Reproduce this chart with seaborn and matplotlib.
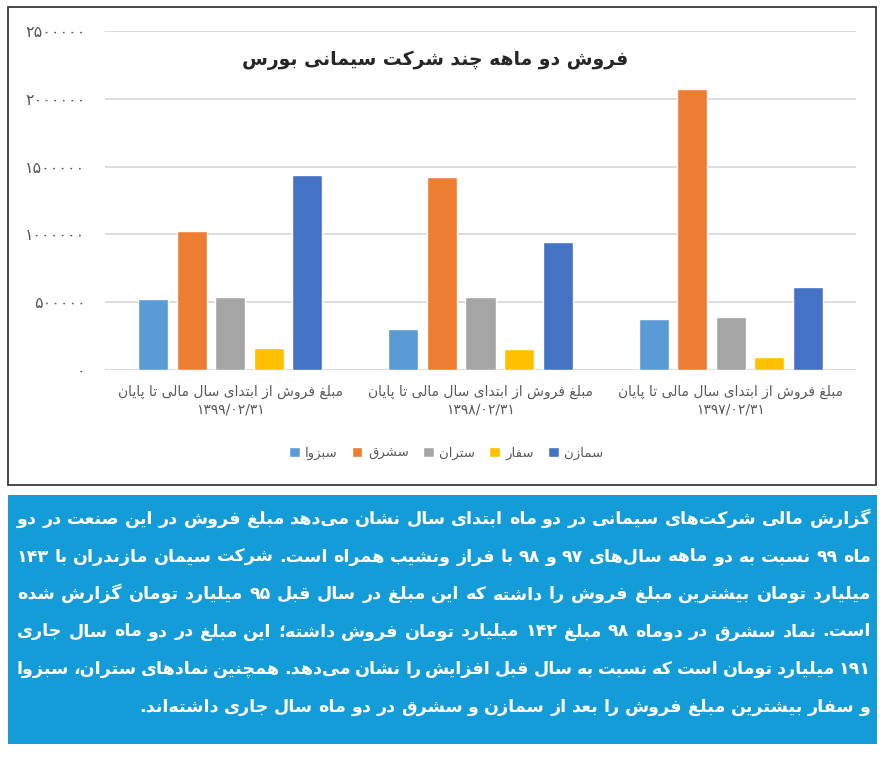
import re
import numpy as np
import pandas as pd
import matplotlib
matplotlib.use("Agg")
import matplotlib.pyplot as plt
import seaborn as sns
from matplotlib.patches import Rectangle

# داده ها (از روی نمودار خوانده شده)
periods = ["۱۳۹۹/۰۲/۳۱", "۱۳۹۸/۰۲/۳۱", "۱۳۹۷/۰۲/۳۱"]
companies = ["سبزوا", "سشرق", "ستران", "سفار", "سمازن"]
sabzva = [527000, 301000, 375000]
sashargh = [1023000, 1425000, 2069000]
setran = [535000, 535000, 390000]
safar = [165000, 155000, 98000]
samazn = [1435000, 947000, 614000]
colors = ["#5B9BD5", "#ED7D31", "#A5A5A5", "#FFC000", "#4472C4"]
yticks = [0, 500000, 1000000, 1500000, 2000000, 2500000]
label_prefix = "مبلغ فروش از ابتدای سال مالی تا پایان"
title = "فروش دو ماهه چند شرکت سیمانی بورس"
caption_lines = [
    "گزارش مالی شرکت\u200cهای سیمانی در دو ماه ابتدای سال نشان می\u200cدهد مبلغ فروش در این صنعت در دو",
    "ماه ۹۹ نسبت به دو ماهه سال\u200cهای ۹۷ و ۹۸ با فراز ونشیب همراه است. شرکت سیمان مازندران با ۱۴۳",
    "میلیارد تومان بیشترین مبلغ فروش را داشته که این مبلغ در سال قبل ۹۵ میلیارد تومان گزارش شده",
    "است. نماد سشرق در دوماه ۹۸ مبلغ ۱۴۲ میلیارد تومان فروش داشته؛ این مبلغ در دو ماه سال جاری",
    "۱۹۱ میلیارد تومان است که نسبت به سال قبل افزایش را نشان می\u200cدهد. همچنین نمادهای ستران، سبزوا",
    "و سفار بیشترین مبلغ فروش را بعد از سمازن و سشرق در دو ماه سال جاری داشته\u200cاند.",
]

# شکل دهی حروف فارسی (matplotlib خودش این کار را نمی کند)
_D = {'ب': 0xFE8F, 'ت': 0xFE95, 'ث': 0xFE99, 'ج': 0xFE9D, 'ح': 0xFEA1, 'خ': 0xFEA5,
      'س': 0xFEB1, 'ش': 0xFEB5, 'ص': 0xFEB9, 'ض': 0xFEBD, 'ط': 0xFEC1, 'ظ': 0xFEC5,
      'ع': 0xFEC9, 'غ': 0xFECD, 'ف': 0xFED1, 'ق': 0xFED5, 'ك': 0xFED9, 'ل': 0xFEDD,
      'م': 0xFEE1, 'ن': 0xFEE5, 'ه': 0xFEE9, 'ي': 0xFEF1, 'ئ': 0xFE89,
      'پ': 0xFB56, 'چ': 0xFB7A, 'ک': 0xFB8E, 'گ': 0xFB92, 'ی': 0xFBFC}
_R = {'ا': 0xFE8D, 'آ': 0xFE81, 'أ': 0xFE83, 'إ': 0xFE87, 'ؤ': 0xFE85, 'د': 0xFEA9,
      'ذ': 0xFEAB, 'ر': 0xFEAD, 'ز': 0xFEAF, 'و': 0xFEED, 'ة': 0xFE93, 'ژ': 0xFB8A}
_LA = {'ا': (0xFEFB, 0xFEFC), 'آ': (0xFEF5, 0xFEF6), 'أ': (0xFEF7, 0xFEF8), 'إ': (0xFEF9, 0xFEFA)}


def shape(s):
    out = []
    i, n = 0, len(s)
    while i < n:
        c = s[i]
        if c not in _D and c not in _R:
            out.append(c)
            i += 1
            continue
        prev = s[i - 1] if i > 0 else ''
        nxt = s[i + 1] if i + 1 < n else ''
        con_prev = prev in _D
        if c == 'ل' and nxt in _LA:
            iso, fin = _LA[nxt]
            out.append(chr(fin if con_prev else iso))
            i += 2
            continue
        if c in _D:
            con_next = nxt in _D or nxt in _R
            k = (3 if con_next else 1) if con_prev else (2 if con_next else 0)
            out.append(chr(_D[c] + k))
        else:
            out.append(chr(_R[c] + (1 if con_prev else 0)))
        i += 1
    return ''.join(out).replace('\u200c', '')


def rtl(s):
    v = shape(s)[::-1]
    return re.sub(r'[0-9۰-۹]+(?:[/.][0-9۰-۹]+)*', lambda m: m.group(0)[::-1], v)


def fa_num(v):
    return str(v).translate(str.maketrans("0123456789", "۰۱۲۳۴۵۶۷۸۹"))


df = pd.DataFrame({
    "period": np.repeat(periods, len(companies)),
    "company": companies * len(periods),
    "value": np.array([sabzva, sashargh, setran, safar, samazn]).T.ravel(),
})

sns.set_style("white")
plt.rcParams['font.family'] = ['DejaVu Sans']

W, H = 884, 757
fig = plt.figure(figsize=(W / 100, H / 100), dpi=100)
ax = fig.add_axes([105 / W, 1 - 370 / H, (856 - 105) / W, (370 - 31) / H])

sns.barplot(data=df, x="period", y="value", hue="company", order=periods,
            hue_order=companies, palette=colors, saturation=1,
            width=0.77, gap=0.22, ax=ax)

ax.set_ylim(0, 2500000)
ax.set_yticks(yticks)
ax.set_yticklabels([fa_num(t) for t in yticks], fontsize=11.5, color="#595959")
ax.set_xticks(range(len(periods)))
ax.set_xticklabels([rtl(label_prefix) + "\n" + p for p in periods],
                   fontsize=10, color="#595959", linespacing=1.25)
ax.tick_params(axis="y", length=0, pad=14)
ax.tick_params(axis="x", length=0, pad=11)
ax.yaxis.grid(True, color="#D9D9D9", lw=1.3)
ax.set_axisbelow(True)
for sp in ax.spines.values():
    sp.set_visible(False)
ax.set_xlabel("")
ax.set_ylabel("")

handles, _ = ax.get_legend_handles_labels()
ax.legend(handles, [rtl(c) for c in companies], loc="center",
          bbox_to_anchor=(446 / W, 1 - 453 / H), bbox_transform=fig.transFigure,
          ncol=5, frameon=False, fontsize=9.5, handlelength=0.8, handleheight=0.8,
          columnspacing=1.1, handletextpad=0.4, labelcolor="#595959")

fig.text(435 / W, 1 - 60 / H, rtl(title), ha="center", va="center",
         fontsize=13.5, fontweight="bold", color="#262626")

# کادر نمودار و کادر آبی متن
fig.patches.append(Rectangle((8 / W, 1 - 485 / H), 868 / W, 478 / H, transform=fig.transFigure,
                             fill=False, ec="#3a3a3a", lw=1.3))
fig.patches.append(Rectangle((8 / W, 1 - 744 / H), 869 / W, 249 / H, transform=fig.transFigure,
                             fc="#149CD8", ec="none"))

# متن زیر نمودار، تراز دو طرفه با فاصله کلمات
r = fig.canvas.get_renderer()
left, right = 17, 871
baselines = [524, 561.5, 599, 636.5, 674, 711.5]
lines_words = [rtl(l).split(" ") for l in caption_lines]

probe_fs = 14
need = []
for ws in lines_words[:-1]:
    tw = 0
    for w in ws:
        t = fig.text(0, 0, w, fontsize=probe_fs, fontweight="bold")
        tw += t.get_window_extent(r).width
        t.remove()
    # کمترین فاصله بین کلمات 0.22em
    need.append(tw + 0.22 * probe_fs * 100 / 72 * (len(ws) - 1))
fs = min(17, probe_fs * (right - left) / max(need))

for i, ws in enumerate(lines_words):
    txts = [fig.text(0, 1 - baselines[i] / H, w, fontsize=fs, fontweight="bold",
                     color="white", ha="left", va="baseline") for w in ws]
    widths = [t.get_window_extent(r).width for t in txts]
    if i == len(lines_words) - 1:
        gap = 0.3 * fs * 100 / 72
        x = right - sum(widths) - gap * (len(ws) - 1)
    else:
        gap = (right - left - sum(widths)) / (len(ws) - 1)
        x = left
    for t, w in zip(txts, widths):
        t.set_x(x / W)
        x += w + gap

fig.savefig("out.png", dpi=100)
